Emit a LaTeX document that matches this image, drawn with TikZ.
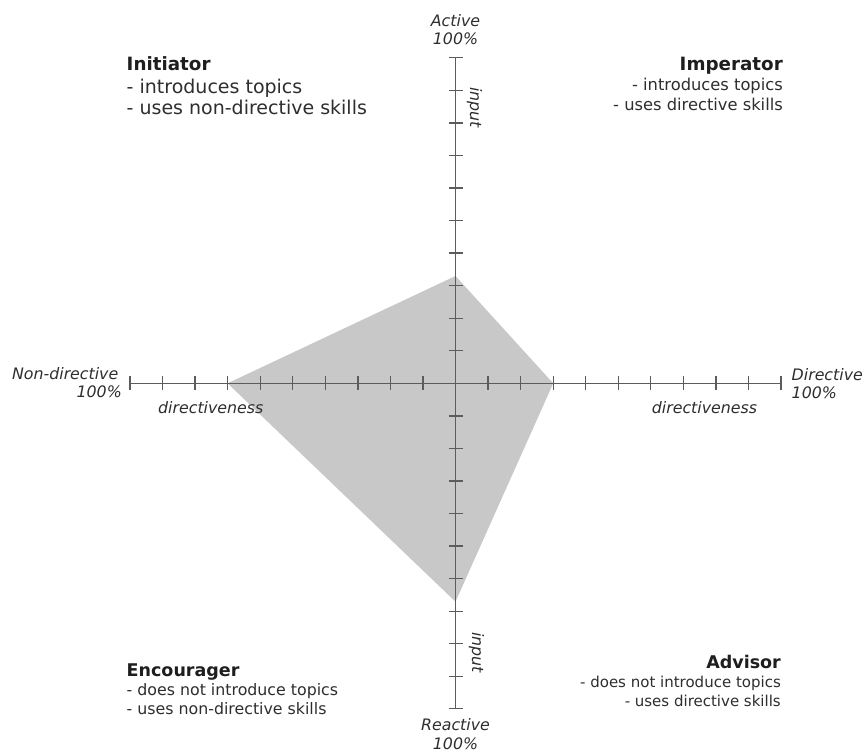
\documentclass[tikz,border=0pt]{standalone}
\usepackage{fontspec}
\setmainfont{DejaVu Sans}
\definecolor{axisgray}{HTML}{5C5C5C}
\definecolor{areafill}{HTML}{C8C8C8}
\definecolor{ink}{HTML}{1E1E1E}
\definecolor{bodyink}{HTML}{2E2E2E}
\begin{document}
\begin{tikzpicture}[x=1pt,y=-1pt,
  axisline/.style={draw=axisgray,line width=1.5pt},
  tickline/.style={draw=axisgray,line width=1.3pt},
  axislabel/.style={inner sep=0pt,text=bodyink,font=\fontsize{15.8}{18}\selectfont\itshape},
  roletitle/.style={inner sep=0pt,text=ink,font=\fontsize{#1}{20}\selectfont\bfseries},
  roleline/.style={inner sep=0pt,text=bodyink,font=\fontsize{#1}{20}\selectfont}]
\useasboundingbox[fill=white] (0,0) rectangle (864,752);

% axis end points and origin (one tick = 32.55)
\coordinate (o) at (455.5,383.3);
\coordinate (west) at (130,383.3);
\coordinate (east) at (781,383.3);
\coordinate (north) at (455.5,57.8);
\coordinate (south) at (455.5,708.8);

% profile area
\coordinate (pn) at (455.5,276);
\coordinate (pe) at (553.2,383.3);
\coordinate (ps) at (455.5,601.7);
\coordinate (pw) at (227.6,383.3);
\fill[areafill] (pn) -- (pe) -- (ps) -- (pw) -- cycle;

% axes
\draw[axisline] (west) -- (east);
\draw[axisline] (north) -- (south);
\foreach \i in {1,...,10} {
  \draw[tickline] (455.5+\i*32.55,376.3) -- ++(0,14);
  \draw[tickline] (455.5-\i*32.55,376.3) -- ++(0,14);
  \draw[tickline] (448.5,383.3+\i*32.55) -- ++(14,0);
  \draw[tickline] (448.5,383.3-\i*32.55) -- ++(14,0);
}

% axis end labels
\node[axislabel,anchor=base] (act) at (455.5,26.7) {Active};
\node[axislabel,anchor=base] (actp) at (455.5,45) {100\%};
\node[axislabel,anchor=base] (rea) at (455.5,730) {Reactive};
\node[axislabel,anchor=base] (reap) at (455.5,749) {100\%};
\node[axislabel,anchor=base east] (nond) at (118.5,379) {Non-directive};
\node[axislabel,anchor=base east] (nondp) at (122,397.5) {100\%};
\node[axislabel,anchor=base west] (dir) at (791.5,380) {Directive};
\node[axislabel,anchor=base west] (dirp) at (791.5,398.5) {100\%};

% axis names
\node[axislabel,anchor=base west] (dl) at (158,413) {directiveness};
\node[axislabel,anchor=base west] (dr) at (651.7,413) {directiveness};
\node[axislabel,rotate=-90] (inn) at (474.5,107.5) {input};
\node[axislabel,rotate=-90] (ins) at (476.5,652.5) {input};

% quadrant roles
\node[roletitle=18.3,anchor=base west] (ini) at (126.5,70.7) {Initiator};
\node[roleline=19,anchor=base west] (ini1) at (126.5,93.3) {- introduces topics};
\node[roleline=19,anchor=base west] (ini2) at (126.5,114) {- uses non-directive skills};

\node[roletitle=18.3,anchor=base east] (imp) at (783,70.7) {Imperator};
\node[roleline=16.3,anchor=base east] (imp1) at (783,90.7) {- introduces topics};
\node[roleline=16.3,anchor=base east] (imp2) at (783,110.7) {- uses directive skills};

\node[roletitle=17.5,anchor=base west] (enc) at (126.5,676) {Encourager};
\node[roleline=15.8,anchor=base west] (enc1) at (126.5,695) {- does not introduce topics};
\node[roleline=15.8,anchor=base west] (enc2) at (126.5,714) {- uses non-directive skills};

\node[roletitle=17.5,anchor=base east] (adv) at (781,668.3) {Advisor};
\node[roleline=15,anchor=base east] (adv1) at (781,687.3) {- does not introduce topics};
\node[roleline=15,anchor=base east] (adv2) at (781,706.7) {- uses directive skills};
\end{tikzpicture}
\end{document}
